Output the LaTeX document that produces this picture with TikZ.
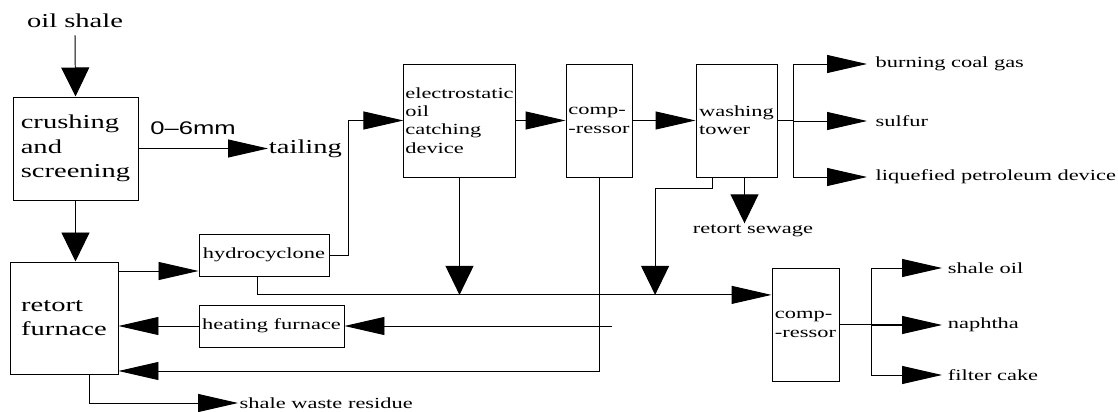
\documentclass[tikz,border=0pt]{standalone}
\usepackage{fontspec}
\setmainfont{Liberation Serif}[FakeStretch=1.45]
\newfontfamily\dimfont{Liberation Sans}[FakeStretch=1.4, Ligatures=TeX]
\usetikzlibrary{arrows.meta}
\newcommand\bigtxt{\fontsize{14}{17.5}\selectfont}
\newcommand\smtxt{\fontsize{11}{13}\selectfont}

\begin{document}
\begin{tikzpicture}[x=0.25mm, y=-0.25mm,
    proc/.style={draw, line width=0.7pt, align=left, inner sep=1pt, font=\smtxt},
    bigproc/.style={proc, font=\bigtxt},
    txt/.style={inner sep=1pt, font=\smtxt},
    outtxt/.style={txt, anchor=west, inner xsep=6pt},
    pipe/.style={line width=0.7pt},
    harrow/.style={pipe, -{Triangle[length=10mm, width=4.5mm]}},
    varrow/.style={pipe, -{Triangle[length=7.25mm, width=7mm]}}
  ]
    \useasboundingbox (0,0) rectangle (1118,412);

    \node[txt, font=\bigtxt, inner ysep=5pt] (oil) at (75,21) {oil shale};
    \node[bigproc, minimum width=31.25mm, minimum height=25.75mm] (crush) at (75.5,148.5) {crushing\\and\\screening};
    \node[txt, font=\bigtxt, anchor=west, inner xsep=0.5pt] (tail) at (268,148.5) {tailing};
    \node[txt, font={\dimfont\fontsize{13}{15}\selectfont}] (mm) at (193,128) {0–6mm};
    \node[bigproc, minimum width=27mm, minimum height=28mm] (retort) at (64,318) {retort\\furnace};
    \node[proc, minimum width=32.5mm, minimum height=10.5mm] (hydro) at (264,255) {hydrocyclone};
    \node[proc, minimum width=36.25mm, minimum height=10.5mm] (heat) at (271.5,326) {heating furnace};

    \node[proc, minimum width=27.25mm, minimum height=28.25mm] (esp)  at (459.5,120.5) {electrostatic\\oil\\catching\\device};
    \node[proc, minimum width=16.5mm,  minimum height=28.25mm] (comp) at (599,120.5) {comp-\\-ressor};
    \node[proc, minimum width=20.25mm, minimum height=28.25mm] (wash) at (736.5,120.5) {washing\\tower};
    \node[proc, minimum width=16.75mm, minimum height=28.25mm] (cmp2) at (805.5,324.5) {comp-\\-ressor};

    \node[outtxt] (gas)  at (867,64)  {burning coal gas};
    \node[outtxt] (sul)  at (867,121) {sulfur};
    \node[outtxt] (lpg)  at (867,177) {liquefied petroleum device};
    \node[txt] (sew) at (753,231) {retort sewage};
    \node[outtxt, inner xsep=4pt] (so)   at (942,268) {shale oil};
    \node[outtxt, inner xsep=4pt] (naph) at (942,325) {naphtha};
    \node[outtxt, inner xsep=4pt] (cake) at (942,375) {filter cake};
    \node[outtxt, inner xsep=1pt] (waste) at (238,403) {shale waste residue};

    % feed and screening
    \draw[varrow] (oil.south) -- (crush.north);
    \draw[harrow] (crush.east) -- (tail.west);
    \draw[varrow] (crush.south) -- (crush.south |- retort.north);

    % gas line
    \draw[harrow] (hydro.east) -- ++(19,0) |- (esp.west);
    \draw[harrow] (esp) -- (comp);
    \draw[harrow] (comp) -- (wash);
    \coordinate (wbr) at (793,120.5);
    \draw[pipe] (wash.east) -- (wbr);
    \draw[pipe] (wbr |- gas.west) -- (wbr |- lpg.west);
    \foreach \n in {gas,sul,lpg}
      \draw[harrow] (wbr |- \n.west) -- (\n.west);
    \coordinate (wout) at ([xshift=2mm]wash.south);
    \draw[varrow] (wout) -- (wout |- sew.north);

    % oil collecting line
    \coordinate (bus) at ([yshift=7.4mm]cmp2.west);
    \draw[harrow] ([xshift=-1.75mm]hydro.south) |- (bus);
    \draw[varrow] (esp.south) -- (esp.south |- bus);
    \coordinate (wret) at ([xshift=-6.1mm]wash.south);
    \draw[varrow] (wret) -- ++(0,11) -- ++(-57,0) coordinate (wdn) -- (wdn |- bus);
    \coordinate (cbr) at (871,324.5);
    \draw[pipe, line width=1.3pt] (cmp2.east) -- (cbr);
    \draw[pipe] (cbr |- so.west) -- (cbr |- cake.west);
    \foreach \n in {so,naph,cake}
      \draw[harrow] (cbr |- \n.west) -- (\n.west);
    \draw[pipe, line width=1.3pt] (cbr) -- ++(35,0);

    % returns to the retort
    \coordinate (rtop) at ([yshift=11.75mm]retort.east);
    \draw[harrow] (rtop) -- (rtop -| hydro.west);
    \coordinate (hin) at (612,326);
    \draw[harrow] (hin) -- (heat.east);
    \draw[harrow] (heat.west) -- (heat.west -| retort.east);
    \draw[harrow] (comp.south) |- ([yshift=-13.25mm]retort.east);
    \draw[harrow] ([xshift=6.25mm]retort.south) |- (waste.west);
  \end{tikzpicture}
\end{document}
